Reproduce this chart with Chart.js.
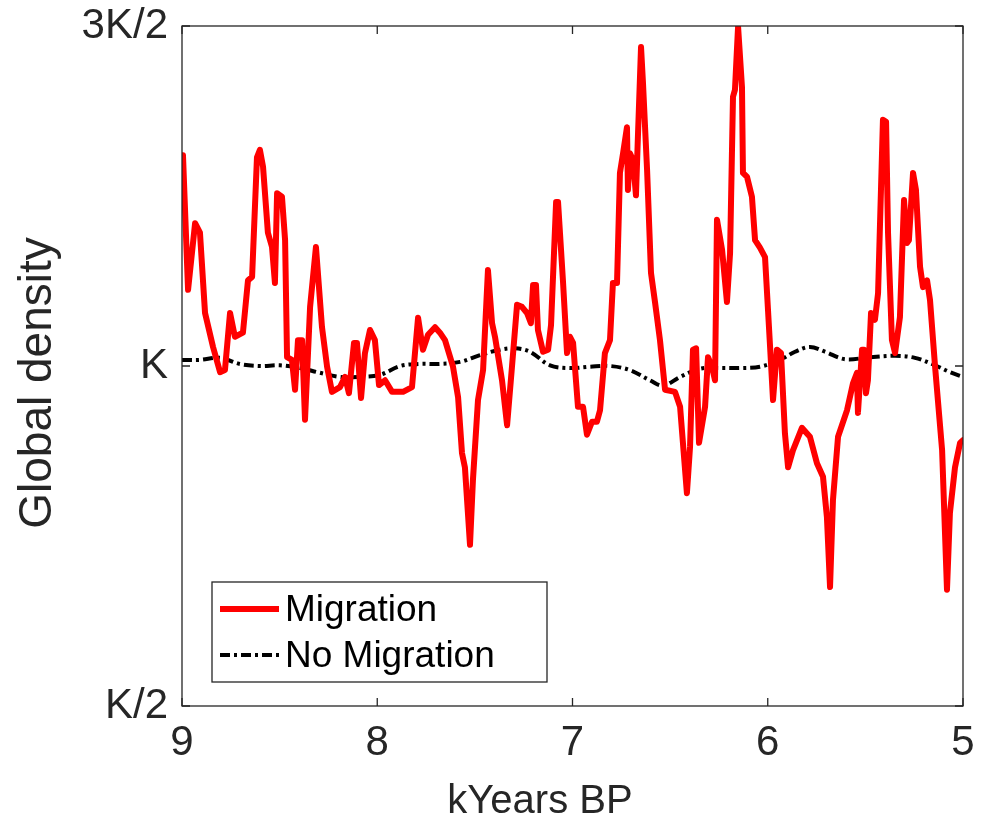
<!DOCTYPE html>
<html><head><meta charset="utf-8">
<script src="https://cdn.jsdelivr.net/npm/chart.js@4.4.0/dist/chart.umd.min.js"></script>
<style>html,body{margin:0;padding:0;background:#fff;}#wrap{width:984px;height:818px;position:relative;}</style>
</head><body><div id="wrap"><canvas id="c" width="984" height="818"></canvas></div>
<script>
const migYears = [
8.995,8.969,8.933,8.908,8.882,8.841,8.805,8.780,8.754,8.729,
8.688,8.662,8.641,8.616,8.601,8.585,8.560,8.539,8.524,8.513,
8.488,8.472,8.462,8.437,8.421,8.406,8.385,8.370,8.344,8.314,
8.283,8.257,8.232,8.191,8.165,8.145,8.119,8.104,8.083,8.063,
8.037,8.012,7.991,7.960,7.924,7.868,7.822,7.791,7.766,7.740,
7.704,7.679,7.653,7.612,7.586,7.566,7.551,7.525,7.510,7.484,
7.458,7.433,7.412,7.397,7.361,7.335,7.310,7.284,7.259,7.233,
7.213,7.202,7.187,7.177,7.151,7.125,7.110,7.084,7.074,7.049,
7.028,7.013,6.997,6.972,6.946,6.926,6.900,6.875,6.859,6.834,
6.808,6.793,6.772,6.757,6.741,6.721,6.716,6.706,6.690,6.675,
6.665,6.649,6.639,6.618,6.598,6.577,6.552,6.526,6.475,6.449,
6.414,6.398,6.383,6.367,6.352,6.321,6.306,6.286,6.270,6.260,
6.234,6.209,6.193,6.178,6.168,6.152,6.132,6.127,6.106,6.081,
6.065,6.040,6.014,5.988,5.973,5.953,5.932,5.912,5.896,5.871,
5.825,5.784,5.748,5.717,5.697,5.681,5.666,5.640,5.594,5.563,
5.543,5.538,5.517,5.507,5.497,5.487,5.471,5.451,5.435,5.410,
5.394,5.384,5.364,5.348,5.323,5.302,5.287,5.277,5.256,5.241,
5.220,5.205,5.184,5.169,5.143,5.107,5.082,5.067,5.041,5.015,
5.000];
const migDensity = [
1.310,1.112,1.210,1.196,1.078,1.028,0.991,0.994,1.078,1.043,
1.049,1.126,1.131,1.307,1.318,1.293,1.196,1.175,1.122,1.254,
1.249,1.185,1.013,1.009,0.965,1.038,1.038,0.921,1.087,1.175,
1.057,0.999,0.962,0.969,0.984,0.960,1.034,1.034,0.953,1.019,
1.053,1.038,0.972,0.979,0.962,0.962,0.969,1.071,1.024,1.046,
1.057,1.049,1.038,0.999,0.954,0.872,0.851,0.737,0.832,0.950,
0.994,1.141,1.063,1.043,0.979,0.913,0.999,1.090,1.087,1.078,
1.063,1.119,1.119,1.053,1.021,1.024,1.060,1.241,1.241,1.126,
1.019,1.043,1.034,0.940,0.940,0.899,0.918,0.918,0.935,1.019,
1.038,1.122,1.122,1.284,1.313,1.351,1.259,1.313,1.303,1.251,
1.337,1.469,1.416,1.288,1.137,1.093,1.038,0.965,0.962,0.940,
0.813,0.881,1.024,1.026,0.887,0.940,1.013,0.999,0.979,1.215,
1.171,1.094,1.166,1.396,1.406,1.499,1.410,1.284,1.278,1.249,
1.185,1.174,1.160,1.028,0.950,1.024,1.019,0.901,0.851,0.876,
0.909,0.896,0.857,0.837,0.778,0.675,0.803,0.896,0.935,0.975,
0.990,0.931,1.024,1.024,0.960,0.979,1.078,1.068,1.107,1.362,
1.359,1.196,1.038,1.019,1.072,1.244,1.181,1.185,1.284,1.259,
1.146,1.116,1.126,1.097,0.999,0.876,0.671,0.784,0.851,0.887,
0.891];
const noMigYears = [9.000,8.908,8.805,8.703,8.601,8.498,8.396,8.293,8.191,8.088,7.986,7.883,7.781,7.679,7.576,7.474,7.371,7.294,7.218,7.115,7.013,6.910,6.808,6.706,6.603,6.536,6.449,6.347,6.245,6.142,6.040,5.937,5.860,5.784,5.707,5.604,5.476,5.348,5.246,5.143,5.067,5.000];
const noMigDensity = [1.009,1.009,1.012,1.003,1.000,1.001,0.997,0.990,0.984,0.984,0.987,1.000,1.003,1.003,1.006,1.016,1.024,1.026,1.021,1.001,0.997,0.999,1.000,0.994,0.979,0.971,0.984,0.996,0.997,0.997,0.999,1.009,1.021,1.028,1.021,1.010,1.013,1.015,1.012,1.001,0.991,0.984];
const xTickValues = [9, 8, 7, 6, 5];
const xTickLabels = ['9', '8', '7', '6', '5'];
const yTickValues = [0.5, 1, 1.5];
const yTickLabels = ['K/2', 'K', '3K/2'];
const seriesLabels = ['Migration', 'No Migration'];
const xTitle = 'kYears BP';
const yTitle = 'Global density';

const FONT = '"Liberation Sans", Arial, Helvetica, sans-serif';
const INK = '#262626';

function toPoints(xs, ys) { return xs.map((x, i) => ({ x: x, y: ys[i] })); }

const framePlugin = {
  id: 'frame',
  afterDatasetsDraw(chart) {
    const ctx = chart.ctx, a = chart.chartArea;
    const xs = chart.scales.x, ys = chart.scales.y;
    ctx.save();
    ctx.strokeStyle = INK;
    ctx.lineWidth = 1.3;
    ctx.strokeRect(a.left, a.top, a.right - a.left, a.bottom - a.top);
    const tl = 8;
    ctx.beginPath();
    xs.ticks.forEach(t => {
      const px = xs.getPixelForValue(t.value);
      ctx.moveTo(px, a.bottom); ctx.lineTo(px, a.bottom - tl);
      ctx.moveTo(px, a.top); ctx.lineTo(px, a.top + tl);
    });
    ys.ticks.forEach(t => {
      const py = ys.getPixelForValue(t.value);
      ctx.moveTo(a.left, py); ctx.lineTo(a.left + tl, py);
      ctx.moveTo(a.right, py); ctx.lineTo(a.right - tl, py);
    });
    ctx.stroke();
    ctx.restore();
  },
  afterDraw(chart) {
    const ctx = chart.ctx, a = chart.chartArea;
    ctx.save();
    // axis titles
    ctx.fillStyle = INK;
    ctx.font = '40px ' + FONT;
    ctx.textAlign = 'center';
    ctx.textBaseline = 'alphabetic';
    ctx.fillText(xTitle, a.left + 358, 813);
    ctx.save();
    ctx.translate(51, a.top + 357);
    ctx.rotate(-Math.PI / 2);
    ctx.font = '46px ' + FONT;
    ctx.fillText(yTitle, 0, 0);
    ctx.restore();
    // legend
    const bx = a.left + 30, by = a.bottom - 124, bw = 335, bh = 100;
    ctx.fillStyle = '#fff';
    ctx.fillRect(bx, by, bw, bh);
    ctx.strokeStyle = INK;
    ctx.lineWidth = 1.3;
    ctx.strokeRect(bx, by, bw, bh);
    ctx.font = '37px ' + FONT;
    ctx.textAlign = 'left';
    ctx.textBaseline = 'middle';
    chart.data.datasets.forEach((ds, i) => {
      const cy = by + 27 + i * 46;
      ctx.beginPath();
      ctx.strokeStyle = ds.borderColor;
      ctx.lineWidth = ds.borderWidth;
      ctx.setLineDash(ds.borderDash || []);
      ctx.moveTo(bx + 8, cy); ctx.lineTo(bx + 67, cy);
      ctx.stroke();
      ctx.setLineDash([]);
      ctx.fillStyle = '#000';
      ctx.fillText(ds.label, bx + 73, cy + 2);
    });
    ctx.restore();
  }
};

new Chart(document.getElementById('c'), {
  type: 'line',
  data: {
    datasets: [
      { label: seriesLabels[0], data: toPoints(migYears, migDensity), borderColor: '#ff0000', borderWidth: 6, pointRadius: 0, tension: 0, borderJoinStyle: 'round', borderCapStyle: 'round', fill: false },
      { label: seriesLabels[1], data: toPoints(noMigYears, noMigDensity), borderColor: '#000000', borderWidth: 4, borderDash: [10, 4, 3, 4], pointRadius: 0, tension: 0.35, fill: false }
    ]
  },
  options: {
    responsive: false,
    animation: false,
    events: [],
    layout: { padding: { left: 0, right: 21, top: 26, bottom: 0 } },
    plugins: { legend: { display: false }, tooltip: { enabled: false }, title: { display: false } },
    scales: {
      x: {
        type: 'linear', reverse: true, min: 5, max: 9,
        afterBuildTicks: s => { s.ticks = xTickValues.map(v => ({ value: v })); },
        afterFit: s => { s.height = 112; s.paddingLeft = 0; s.paddingRight = 0; },
        grid: { display: false, drawTicks: false },
        border: { display: false },
        ticks: { font: { family: FONT, size: 42 }, color: INK, padding: 12, maxRotation: 0,
          callback: v => xTickLabels[xTickValues.indexOf(v)] }
      },
      y: {
        type: 'linear', min: 0.5, max: 1.5,
        afterBuildTicks: s => { s.ticks = yTickValues.map(v => ({ value: v })); },
        afterFit: s => { s.width = 182; s.paddingTop = 0; s.paddingBottom = 0; },
        grid: { display: false, drawTicks: false },
        border: { display: false },
        ticks: { font: { family: FONT, size: 42 }, color: INK, padding: 14,
          callback: v => yTickLabels[yTickValues.indexOf(v)] }
      }
    }
  },
  plugins: [framePlugin]
});
</script></body></html>
